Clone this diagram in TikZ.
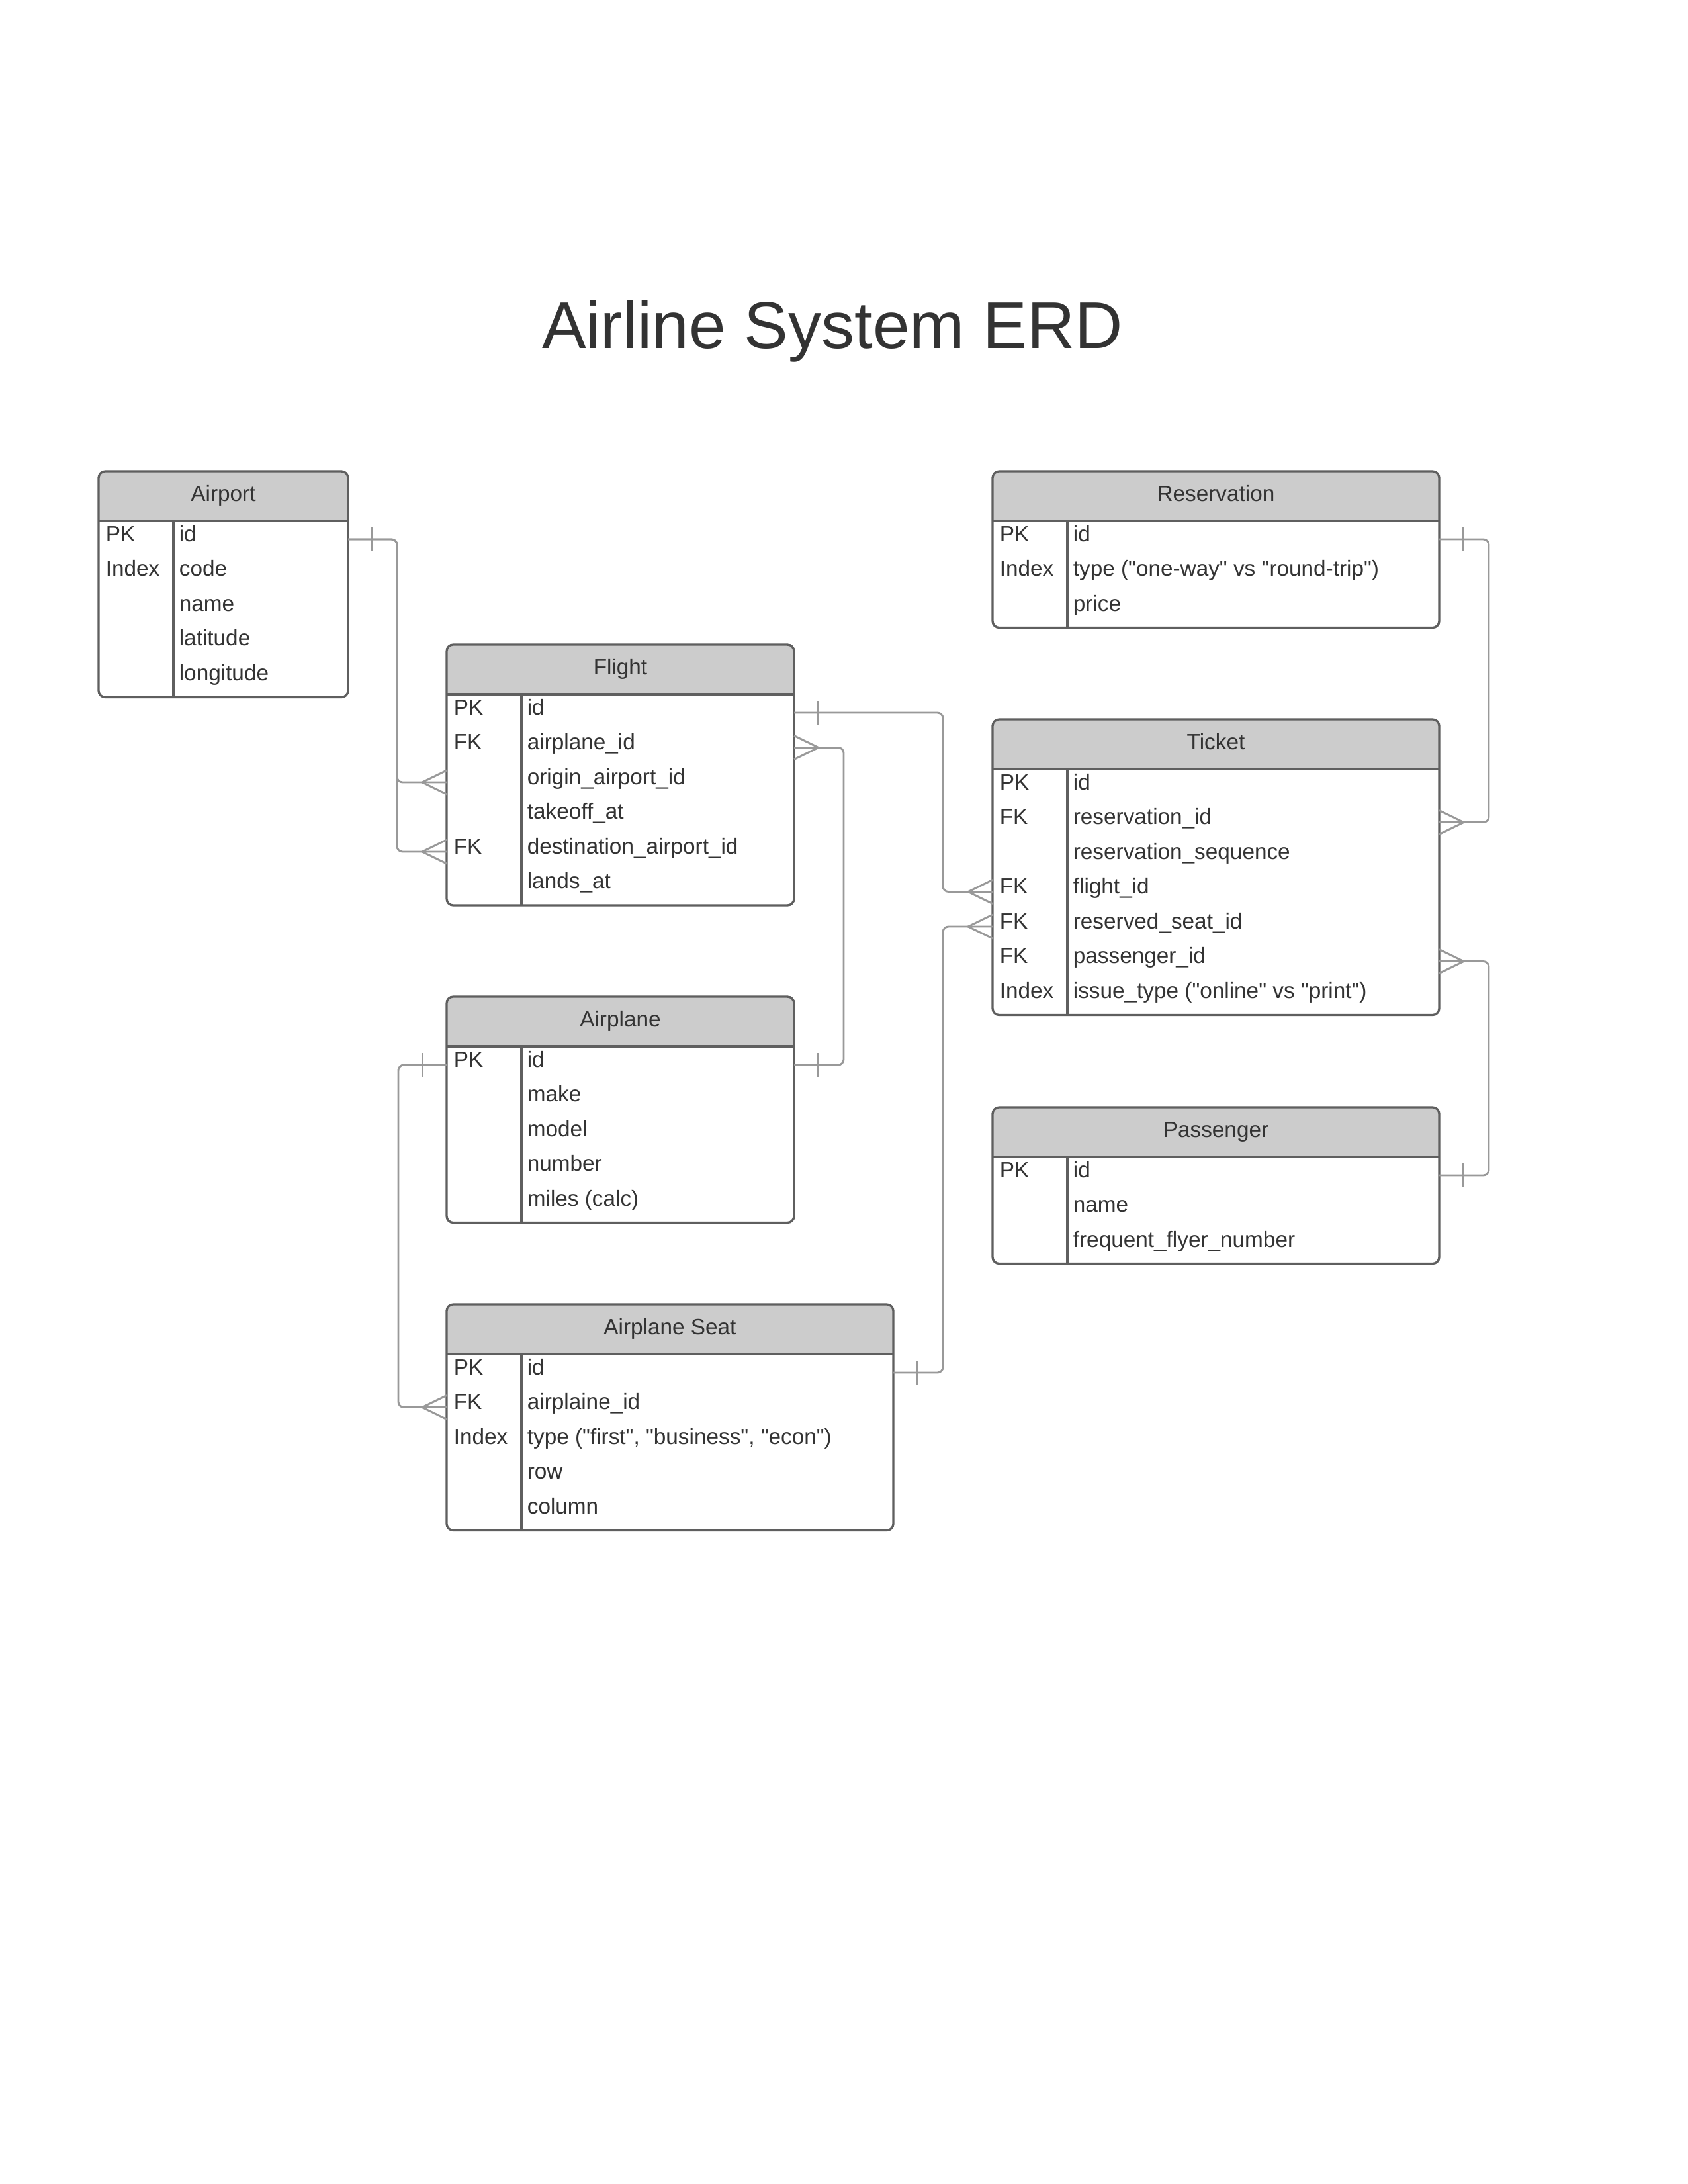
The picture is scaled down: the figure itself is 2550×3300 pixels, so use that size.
\documentclass[tikz,border=0pt]{standalone}
\usepackage{fontspec}
\setmainfont{Liberation Sans}[Ligatures=TeXOff]
\definecolor{txtc}{HTML}{333333}
\definecolor{boxc}{HTML}{5F5F5F}
\definecolor{hdrc}{HTML}{CCCCCC}
\definecolor{connc}{HTML}{999999}
\tikzset{
  erdframe/.style={draw=boxc, line width=0.8pt, rounded corners=2.4pt, rectangle, inner sep=0pt, outer sep=0pt},
  boxline/.style={draw=boxc, line width=0.8pt},
  hdrfill/.style={fill=hdrc},
  hdrtxt/.style={text=txtc, font=\fontsize{8}{9.6}\selectfont, inner sep=0pt},
  rowtxt/.style={text=txtc, font=\fontsize{8}{9.6}\selectfont, inner sep=0pt},
  titletxt/.style={text=txtc, font=\fontsize{24}{28}\selectfont, inner sep=0pt},
  conn/.style={draw=connc, line width=0.7pt, rounded corners=2pt},
  connmark/.style={draw=connc, line width=0.7pt},
}
% #1 name, #2 x, #3 y (top), #4 width, #5 rows, #6 title, #7 key/field list
\newcommand{\erdtable}[7]{%
  \pgfmathsetmacro{\erdh}{79+52.5*#5}%
  \pgfmathsetmacro{\erdhb}{#3+75}%
  \begin{scope}
    \clip[rounded corners=2.4pt] (#2,#3) rectangle ({#2+#4},{#3+\erdh});
    \fill[hdrfill] (#2,#3) rectangle ({#2+#4},\erdhb);
  \end{scope}
  \node[erdframe, minimum width={#4*0.24pt}, minimum height={\erdh*0.24pt}, anchor=north west] (#1) at (#2,#3) {};
  \draw[boxline] (#2,\erdhb) -- ({#2+#4},\erdhb);
  \draw[boxline] ({#2+113},\erdhb) -- ({#2+113},{#3+\erdh});
  \node[hdrtxt, anchor=base] (#1-title) at ({#2+#4/2},{#3+45}) {#6};
  \foreach \k/\f [count=\i] in {#7} {
    \node[rowtxt, anchor=base west] (#1-k\i) at ({#2+10},{\erdhb+31+52.5*(\i-1)}) {\k};
    \node[rowtxt, anchor=base west] (#1-f\i) at ({#2+121},{\erdhb+31+52.5*(\i-1)}) {\f};
    \coordinate (#1-L\i) at (#2,{\erdhb+28+52.5*(\i-1)});
    \coordinate (#1-R\i) at ({#2+#4},{\erdhb+28+52.5*(\i-1)});
  }
}
\newcommand{\crowL}[1]{\draw[connmark] ([shift={(0,-18)}]#1) -- ([shift={(-37,0)}]#1) -- ([shift={(0,18)}]#1);}
\newcommand{\crowR}[1]{\draw[connmark] ([shift={(0,-18)}]#1) -- ([shift={(37,0)}]#1) -- ([shift={(0,18)}]#1);}
\newcommand{\tickL}[1]{\draw[connmark] ([shift={(-36,-18)}]#1) -- ([shift={(-36,18)}]#1);}
\newcommand{\tickR}[1]{\draw[connmark] ([shift={(36,-18)}]#1) -- ([shift={(36,18)}]#1);}
\begin{document}
\begin{tikzpicture}[x=0.24pt, y=-0.24pt]
\fill[white] (0,0) rectangle (2550,3300);
\useasboundingbox (0,0) rectangle (2550,3300);

\node[titletxt, anchor=base] (title) at (1258,526) {Airline System ERD};

\erdtable{airport}{149}{712}{377}{5}{Airport}{PK/id, Index/code, /name, /latitude, /longitude}
\erdtable{flight}{675}{974}{525}{6}{Flight}{PK/id, FK/airplane\_id, /origin\_airport\_id, /takeoff\_at, FK/destination\_airport\_id, /lands\_at}
\erdtable{airplane}{675}{1506}{525}{5}{Airplane}{PK/id, /make, /model, /number, /miles (calc)}
\erdtable{seat}{675}{1971}{675}{5}{Airplane Seat}{PK/id, FK/airplaine\_id, Index/{type ("first", "business", "econ")}, /row, /column}
\erdtable{reservation}{1500}{712}{675}{3}{Reservation}{PK/id, Index/{type ("one-way" vs "round-trip")}, /price}
\erdtable{ticket}{1500}{1087}{675}{7}{Ticket}{PK/id, FK/reservation\_id, /reservation\_sequence, FK/flight\_id, FK/reserved\_seat\_id, FK/passenger\_id, Index/{issue\_type ("online" vs "print")}}
\erdtable{passenger}{1500}{1673}{675}{3}{Passenger}{PK/id, /name, /frequent\_flyer\_number}

% Airport -> Flight (origin, destination)
\draw[conn] (airport-R1) -- ++(74,0) |- (flight-L3);
\draw[conn] (airport-R1) -- ++(74,0) |- (flight-L5);
\tickR{airport-R1}
\crowL{flight-L3}
\crowL{flight-L5}

% Flight -> Ticket (flight_id)
\draw[conn] (flight-R1) -- ++(225,0) |- (ticket-L4);
\tickR{flight-R1}
\crowL{ticket-L4}

% Airplane -> Flight (airplane_id)
\draw[conn] (airplane-R1) -- ++(75,0) |- (flight-R2);
\tickR{airplane-R1}
\crowR{flight-R2}

% Airplane -> Airplane Seat
\draw[conn] (airplane-L1) -- ++(-73,0) |- (seat-L2);
\tickL{airplane-L1}
\crowL{seat-L2}

% Airplane Seat -> Ticket (reserved_seat_id)
\draw[conn] (seat-R1) -- ++(75,0) |- (ticket-L5);
\tickR{seat-R1}
\crowL{ticket-L5}

% Reservation -> Ticket
\draw[conn] (reservation-R1) -- ++(75,0) |- (ticket-R2);
\tickR{reservation-R1}
\crowR{ticket-R2}

% Passenger -> Ticket
\draw[conn] (passenger-R1) -- ++(75,0) |- (ticket-R6);
\tickR{passenger-R1}
\crowR{ticket-R6}
\end{tikzpicture}
\end{document}
